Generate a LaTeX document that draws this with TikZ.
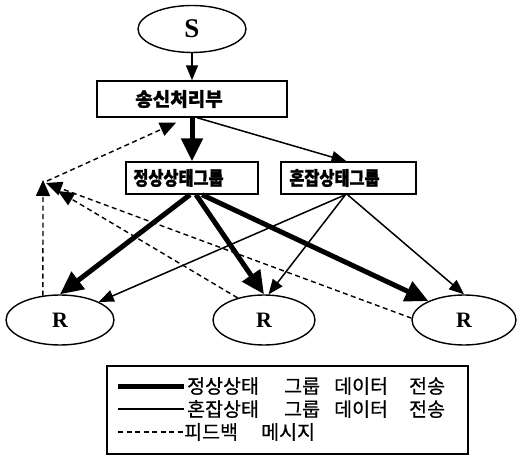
\documentclass[tikz,border=0pt]{standalone}
\usepackage{fontspec}
\setmainfont{Liberation Serif}
\newfontfamily\kr{Noto Sans CJK KR}[BoldFeatures={FakeBold=1.2}]
\newfontfamily\krleg{Noto Sans CJK KR}[FakeBold=0.6]
\usetikzlibrary{arrows.meta,shapes.geometric,calc}
\begin{document}
\begin{tikzpicture}[x=1pt,y=-1pt,
  ell/.style={draw, ellipse, line width=1.4pt, inner sep=0pt, font=\bfseries\fontsize{22}{24}\selectfont},
  box/.style={draw, rectangle, line width=1.4pt, inner sep=0pt, font=\kr\bfseries\fontsize{19}{21}\selectfont},
  thickarr/.style={line width=5pt, -{Triangle[length=23pt,width=21pt]}},
  thinarr/.style={line width=1.5pt, -{Triangle[length=15pt,width=12pt]}},
  fbarr/.style={line width=1.4pt, dash pattern=on 5pt off 3.5pt, -{Triangle[length=16pt,width=14pt]}},
  legtext/.style={inner sep=0pt, anchor=west, font=\krleg\fontsize{19.5}{21}\selectfont},
]
\fill[white] (0,0) rectangle (517,457);
\useasboundingbox (0,0) rectangle (517,457);

\node[ell, minimum width=108pt, minimum height=47pt, font=\bfseries\fontsize{27}{30}\selectfont] (S) at (192,29) {S};
\node[box, minimum width=190pt, minimum height=36pt] (tx) at (192,99) {\hspace*{-26pt}송신처리부};
\node[box, minimum width=132pt, minimum height=32pt] (ns) at (192,178) {\hspace*{-27pt}\scalebox{0.86}[1]{정상상태그룹}};
\node[box, minimum width=135pt, minimum height=32pt] (hj) at (348.5,178) {\hspace*{-28pt}\scalebox{0.86}[1]{혼잡상태그룹}};

\node[ell, minimum width=108pt, minimum height=50pt] (r1) at (60,320) {R};
\node[ell, minimum width=102pt, minimum height=50pt] (r2) at (264,320) {R};
\node[ell, minimum width=104pt, minimum height=50pt] (r3) at (464,320) {R};

% data transfer
\draw[thinarr] (S) -- (tx);
\draw[thickarr] (tx.south) -- (ns.north);
\draw[thinarr] ($(tx.south)+(5,0)$) -- ($(hj.north)+(-2,0)$);
\draw[thickarr] ($(ns.south)+(-2,0)$) -- (r1.north);
\draw[thickarr] ($(ns.south)+(4,0)$) -- (r2.north);
\draw[thickarr] ($(ns.south)+(10,0)$) -- (r3.152);
\draw[thinarr] ($(hj.south)+(-3,0)$) -- (r1.25);
\draw[thinarr] ($(hj.south)+(-3,0)$) -- (r2.80);
\draw[thinarr] ($(hj.south)+(-1,0)$) -- (r3.north);

% feedback
\coordinate (fa) at (43,180);
\coordinate (fb) at (46,183);
\coordinate (fc) at (58,191);
\coordinate (fd) at (47,181);
\coordinate (ftx) at ($(tx.south)+(-16,5)$);
\draw[fbarr] (r1.125) -- (fa);
\draw[fbarr] (r3.178) -- (fb);
\draw[fbarr] (r2.140) -- (fc);
\draw[fbarr] (fd) -- (ftx);

% legend
\node[draw, line width=1.4pt, minimum width=361pt, minimum height=88pt, inner sep=0pt] (leg) at (287.5,410) {};
\coordinate (l1a) at (118,386); \coordinate (l1b) at (184,386);
\coordinate (l2a) at (118,409); \coordinate (l2b) at (184,409);
\coordinate (l3a) at (118,432); \coordinate (l3b) at (184,432);
\draw[line width=5pt] (l1a) -- (l1b);
\draw[line width=1.5pt] (l2a) -- (l2b);
\draw[line width=1.2pt, dash pattern=on 5pt off 3.5pt] (l3a) -- (l3b);
\node[legtext] (t1) at (187,386) {\makebox[97pt][l]{정상상태}\makebox[50pt][l]{그룹}\makebox[75pt][l]{데이터}전송};
\node[legtext] (t2) at (187,409) {\makebox[97pt][l]{혼잡상태}\makebox[50pt][l]{그룹}\makebox[75pt][l]{데이터}전송};
\node[legtext] (t3) at (184,432) {\makebox[77pt][l]{피드백}메시지};
\end{tikzpicture}
\end{document}
